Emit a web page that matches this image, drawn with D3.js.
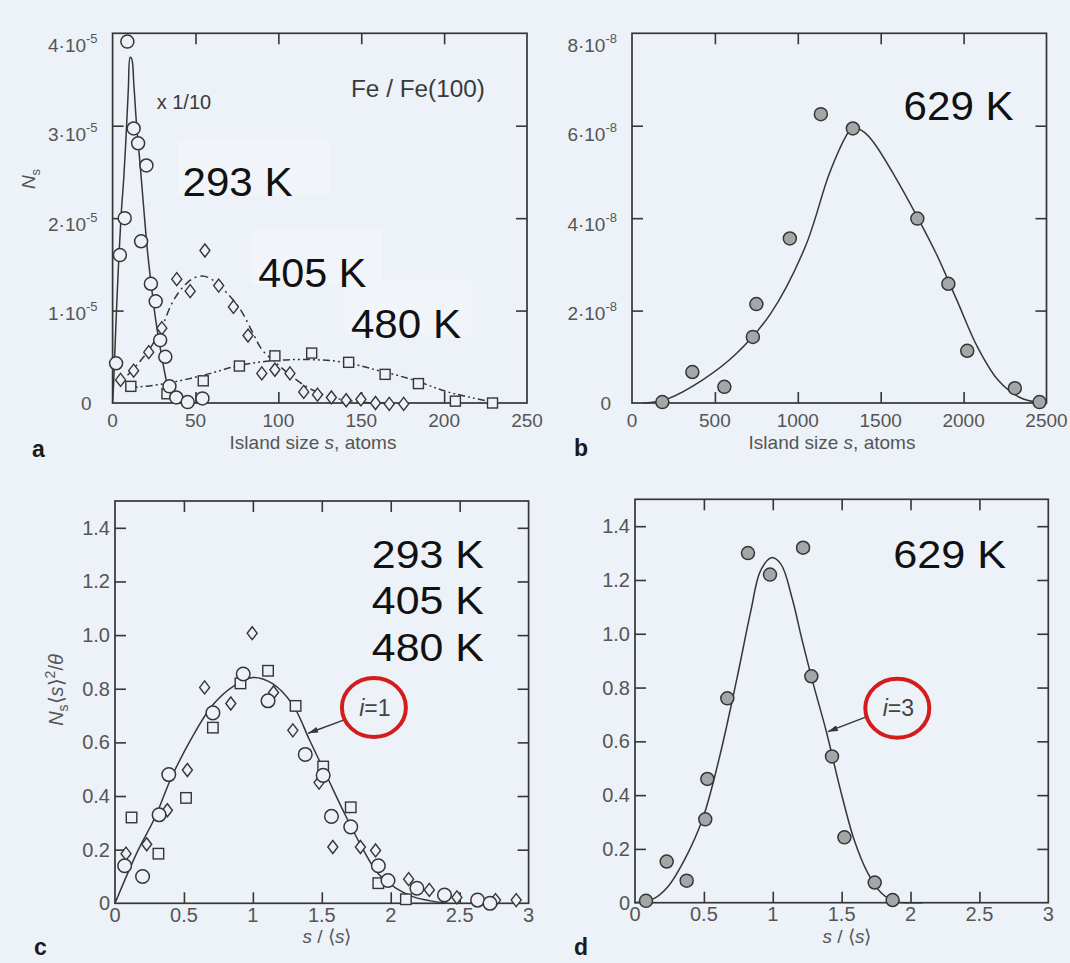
<!DOCTYPE html>
<html>
<head>
<meta charset="utf-8">
<script src="https://cdn.jsdelivr.net/npm/d3@7"></script>
<style>
  body { margin: 0; background: #ecf2f7; }
  svg { display: block; font-family: "Liberation Sans", Arial, Helvetica, sans-serif; }
</style>
</head>
<body>
<svg id="fig" width="1070" height="963"></svg>
<script>
// ---------- values ----------
// panel a: island density N_s (units of 1e-5) vs island size s (atoms)
var aTicksX = [0, 50, 100, 150, 200, 250];
var aTicksY = [0, 1, 2, 3, 4];
var a293 = [[2.1,0.43],[4.4,1.60],[7.3,2.00],[8.9,3.91],[12.7,2.97],[15.4,2.81],[20.4,2.57],[17.2,1.75],
            [23.1,1.29],[26.0,1.10],[28.7,0.68],[31.8,0.50],[34.3,0.18],[38.4,0.06],[45.3,0.01],[54.2,0.05]];
var a405 = [[4.8,0.25],[12.7,0.35],[21.8,0.55],[29.7,0.81],[38.7,1.34],[46.8,1.21],[55.7,1.65],[64.0,1.27],
            [72.9,1.04],[81.7,0.73],[90.0,0.32],[97.9,0.36],[107,0.32],[115.3,0.12],[123.6,0.09],[132,0.06],
            [140.9,0.03],[149.8,0.04],[158.6,0.0],[166.9,-0.01],[175.6,-0.01]];
var a480 = [[11.0,0.18],[32.8,0.10],[54.7,0.24],[76.5,0.40],[97.9,0.51],[120.1,0.54],[142.4,0.44],
            [164.4,0.31],[184.5,0.21],[206.8,0.02],[229.2,0.0]];
var a293Fit = [[0,0],[0.6,0.2],[2,0.85],[3.7,1.55],[5.2,2.05],[6.8,2.45],[8.3,2.95],[9.5,3.4],[10.6,3.74],
               [11.6,3.72],[12.8,3.45],[14.5,3.0],[16.5,2.6],[18.5,2.17],[21,1.65],[23.5,1.25],[26,0.9],
               [28.7,0.6],[31,0.37],[33,0.2],[35,0.1],[37,0.04],[40,0.01],[45,0]];
var a405Fit = [[9,0.3],[15,0.42],[21.8,0.57],[29.7,0.82],[35,1.05],[40,1.2],[45,1.3],[50,1.36],[55.7,1.37],
               [62,1.31],[70,1.17],[77.5,1.0],[84,0.78],[90,0.58],[98.3,0.44],[108.7,0.28],[119,0.155],
               [131.5,0.065],[150,0.01],[170,0]];
var a480Fit = [[8,0.18],[11,0.17],[31.8,0.21],[54.7,0.3],[77.5,0.41],[98.3,0.46],[119,0.47],[139.9,0.44],
               [160.6,0.35],[181.4,0.25],[202.2,0.12],[229.2,0.01]];

// panel b: N_s (units of 1e-8) vs s at 629 K
var bTicksX = [0, 500, 1000, 1500, 2000, 2500];
var bTicksY = [0, 2, 4, 6, 8];
var b629 = [[183,0.02],[364,0.67],[557,0.35],[729,1.43],[750,2.14],[952,3.56],[1139,6.25],[1332,5.94],
            [1721,3.99],[1908,2.58],[2022,1.13],[2309,0.32],[2458,0.02]];
var b629Fit = [[69,0],[214,0.09],[422,0.49],[630,1.07],[837,1.94],[1045,3.38],[1191,4.97],[1295,5.8],
               [1330,5.97],[1400,5.86],[1461,5.62],[1586,4.9],[1710,4.1],[1835,3.23],[1960,2.22],
               [2084,1.21],[2209,0.49],[2334,0.13],[2458,0]];

// panels c, d: scaled distribution N_s<s>^2/theta vs s/<s>
var cdTicksX = [0, 0.5, 1, 1.5, 2, 2.5, 3];
var cdTicksY = [0, 0.2, 0.4, 0.6, 0.8, 1.0, 1.2, 1.4];
var c293 = [[0.07,0.14],[0.20,0.10],[0.32,0.33],[0.39,0.48],[0.71,0.71],[0.93,0.855],[1.11,0.755],
            [1.38,0.555],[1.51,0.477],[1.57,0.324],[1.71,0.285],[1.91,0.14],[1.98,0.085],[2.19,0.056],
            [2.39,0.031],[2.63,0.012],[2.72,0.0]];
var c405 = [[0.08,0.185],[0.23,0.22],[0.38,0.347],[0.525,0.497],[0.65,0.805],[0.84,0.745],[0.995,1.007],
            [1.15,0.786],[1.29,0.645],[1.48,0.45],[1.58,0.21],[1.78,0.21],[1.89,0.197],[2.13,0.09],
            [2.28,0.05],[2.48,0.022],[2.76,0.012],[2.91,0.012]];
var c480 = [[0.12,0.32],[0.315,0.185],[0.515,0.393],[0.71,0.655],[0.91,0.82],[1.11,0.867],[1.31,0.736],
            [1.51,0.51],[1.71,0.358],[1.91,0.075],[2.11,0.015]];
var cFit = [[0,0],[0.16,0.19],[0.29,0.32],[0.41,0.47],[0.56,0.62],[0.71,0.74],[0.86,0.81],[1.0,0.842],
            [1.14,0.82],[1.29,0.74],[1.41,0.61],[1.54,0.47],[1.66,0.34],[1.79,0.21],[1.91,0.11],
            [2.04,0.056],[2.16,0.025],[2.29,0.009],[2.41,0]];
var d629 = [[0.08,0.007],[0.23,0.153],[0.375,0.082],[0.51,0.31],[0.525,0.46],[0.67,0.76],[0.82,1.30],
            [0.98,1.22],[1.22,1.32],[1.28,0.842],[1.43,0.544],[1.52,0.243],[1.74,0.075],[1.87,0.01]];
var dFit = [[0,0],[0.14,0.016],[0.24,0.06],[0.36,0.16],[0.49,0.31],[0.61,0.534],[0.74,0.834],[0.84,1.083],
            [0.91,1.233],[0.99,1.283],[1.06,1.258],[1.14,1.133],[1.21,0.983],[1.29,0.821],[1.39,0.634],
            [1.49,0.422],[1.59,0.235],[1.69,0.11],[1.79,0.035],[1.89,0.004],[1.99,0],[2.09,0]];

// ---------- drawing ----------
var INK = '#363636', TXT = '#555', RED = '#d41c1c', PAPER = '#ecf2f7';
var TICK = 11;
var svg = d3.select('#fig');

svg.append('rect').attr('width', 1070).attr('height', 963).attr('fill', PAPER);

var defs = svg.append('defs');
defs.append('marker').attr('id', 'arrow')
  .attr('viewBox', '0 0 10 6').attr('refX', 10).attr('refY', 3)
  .attr('markerWidth', 10).attr('markerHeight', 6)
  .attr('markerUnits', 'userSpaceOnUse').attr('orient', 'auto')
  .append('path').attr('d', 'M0,0L10,3L0,6Z').attr('fill', INK);

function makePanel(box, xDom, yDom){
  return {
    box: box,
    x: d3.scaleLinear().domain(xDom).range([box.l, box.r]),
    y: d3.scaleLinear().domain(yDom).range([box.b, box.t])
  };
}

// inward ticks on all four sides + frame
function drawFrame(p, xt, yt){
  var b = p.box;
  var xin = xt.filter(function(v){ return v > p.x.domain()[0] && v < p.x.domain()[1]; });
  var yin = yt.filter(function(v){ return v > p.y.domain()[0] && v < p.y.domain()[1]; });
  var sides = [
    [d3.axisBottom(p.x).tickValues(xin), 'translate(0,' + b.b + ')'],
    [d3.axisTop(p.x).tickValues(xin), 'translate(0,' + b.t + ')'],
    [d3.axisLeft(p.y).tickValues(yin), 'translate(' + b.l + ',0)'],
    [d3.axisRight(p.y).tickValues(yin), 'translate(' + b.r + ',0)']
  ];
  sides.forEach(function(s){
    var g = svg.append('g').attr('transform', s[1])
      .call(s[0].tickSize(-TICK).tickFormat(''));
    g.select('.domain').remove();
    g.selectAll('line').attr('stroke', INK).attr('stroke-width', 1.6);
  });
  svg.append('rect')
    .attr('x', b.l).attr('y', b.t)
    .attr('width', b.r - b.l).attr('height', b.b - b.t)
    .attr('fill', 'none').attr('stroke', INK).attr('stroke-width', 1.7);
}

function xLabels(p, vals, base, fs, fmt){
  svg.append('g').selectAll('text').data(vals).join('text')
    .attr('x', function(d){ return p.x(d); })
    .attr('y', base)
    .attr('text-anchor', 'middle')
    .attr('font-size', fs).attr('fill', TXT)
    .text(fmt);
}

// y labels like 4·10^-5 (the scan sets them a little low towards the top)
function expLabels(p, vals, expo){
  var max = p.y.domain()[1];
  var g = svg.append('g').attr('font-size', 19).attr('fill', TXT);
  vals.forEach(function(v){
    var yy = p.y(v) + 12 * v / max + 6.5;
    if(v === 0){
      g.append('text').attr('x', p.box.l - 21).attr('y', yy)
        .attr('text-anchor', 'end').text('0');
      return;
    }
    var t = g.append('text').attr('x', p.box.l - 15).attr('y', yy).attr('text-anchor', 'end');
    t.append('tspan').text(v + '\u00b710');
    t.append('tspan').attr('dy', -9).attr('font-size', 13).text(expo);
  });
}

function decLabels(p, vals){
  svg.append('g').selectAll('text').data(vals).join('text')
    .attr('x', p.box.l - 5)
    .attr('y', function(d){ return p.y(d) + 7; })
    .attr('text-anchor', 'end')
    .attr('font-size', 20).attr('fill', TXT)
    .text(function(d){ return d === 0 ? '0' : d3.format('.1f')(d); });
}

function fitLine(p, pts, dash){
  var line = d3.line()
    .x(function(d){ return p.x(d[0]); })
    .y(function(d){ return p.y(d[1]); })
    .curve(d3.curveCatmullRom.alpha(0.5));
  svg.append('path').datum(pts)
    .attr('d', line)
    .attr('fill', 'none').attr('stroke', INK).attr('stroke-width', 1.5)
    .attr('stroke-dasharray', dash || null);
}

function circles(p, pts, r, fill){
  svg.append('g').selectAll('circle').data(pts).join('circle')
    .attr('cx', function(d){ return p.x(d[0]); })
    .attr('cy', function(d){ return p.y(d[1]); })
    .attr('r', r)
    .attr('fill', fill).attr('stroke', INK).attr('stroke-width', 1.5);
}

function squares(p, pts, s){
  svg.append('g').selectAll('rect').data(pts).join('rect')
    .attr('x', function(d){ return p.x(d[0]) - s / 2; })
    .attr('y', function(d){ return p.y(d[1]) - s / 2; })
    .attr('width', s).attr('height', s)
    .attr('fill', PAPER).attr('stroke', INK).attr('stroke-width', 1.4);
}

function diamonds(p, pts){
  svg.append('g').selectAll('path').data(pts).join('path')
    .attr('transform', function(d){ return 'translate(' + p.x(d[0]) + ',' + p.y(d[1]) + ')'; })
    .attr('d', 'M0,-6.5L5,0L0,6.5L-5,0Z')
    .attr('fill', PAPER).attr('stroke', INK).attr('stroke-width', 1.4);
}

function bigLabel(x, y, str, fs, len){
  svg.append('text').attr('x', x).attr('y', y)
    .attr('font-size', fs).attr('fill', '#111')
    .attr('textLength', len).attr('lengthAdjust', 'spacingAndGlyphs')
    .text(str);
}

function panelLetter(x, y, ch){
  svg.append('text').attr('x', x).attr('y', y)
    .attr('font-size', 23).attr('font-weight', 'bold').attr('fill', '#1a1a1a')
    .text(ch);
}

function islandTitle(cx, y){
  var t = svg.append('text').attr('x', cx).attr('y', y)
    .attr('text-anchor', 'middle').attr('font-size', 19).attr('fill', TXT);
  t.append('tspan').text('Island size  ');
  t.append('tspan').attr('font-style', 'italic').text('s');
  t.append('tspan').text(', atoms');
}

function ratioTitle(cx, y){
  var t = svg.append('text').attr('x', cx).attr('y', y)
    .attr('text-anchor', 'middle').attr('font-size', 19).attr('fill', TXT);
  t.append('tspan').attr('font-style', 'italic').text('s');
  t.append('tspan').text(' / \u27e8');
  t.append('tspan').attr('font-style', 'italic').text('s');
  t.append('tspan').text('\u27e9');
}

function annot(p, cx, cy, n, from, to){
  svg.append('path')
    .attr('d', 'M' + p.x(from[0]) + ',' + p.y(from[1]) + 'L' + p.x(to[0]) + ',' + p.y(to[1]))
    .attr('stroke', INK).attr('stroke-width', 1.5).attr('marker-end', 'url(#arrow)');
  svg.append('ellipse').attr('cx', p.x(cx)).attr('cy', p.y(cy))
    .attr('rx', 32).attr('ry', 29.5)
    .attr('fill', PAPER).attr('stroke', RED).attr('stroke-width', 4);
  var t = svg.append('text').attr('x', p.x(cx) + 1).attr('y', p.y(cy) + 8)
    .attr('text-anchor', 'middle').attr('font-size', 23).attr('fill', '#444');
  t.append('tspan').attr('font-style', 'italic').text('i');
  t.append('tspan').text('=' + n);
}

// ---------------- panel a ----------------
var pa = makePanel({l: 112.6, r: 527, t: 33.3, b: 403}, [0, 250], [0, 4]);
var patch = '#f1f5f9';
svg.append('rect').attr('x', pa.x(39)).attr('y', pa.y(2.85)).attr('width', 152).attr('height', 55).attr('fill', patch);
svg.append('rect').attr('x', pa.x(84)).attr('y', pa.y(1.88)).attr('width', 130).attr('height', 55).attr('fill', patch);
svg.append('rect').attr('x', pa.x(140)).attr('y', pa.y(1.32)).attr('width', 128).attr('height', 54).attr('fill', patch);
drawFrame(pa, aTicksX, aTicksY);
xLabels(pa, aTicksX, 427, 19, function(d){ return d; });
expLabels(pa, aTicksY, '-5');
fitLine(pa, a480Fit, '7,3,2,3,2,3');
fitLine(pa, a405Fit, '8,4,2,4');
fitLine(pa, a293Fit);
squares(pa, a480, 10);
diamonds(pa, a405);
circles(pa, a293, 6.5, PAPER);
bigLabel(pa.x(42.2), pa.y(2.24), '293 K', 40, 110);
bigLabel(pa.x(87.9), pa.y(1.25), '405 K', 40, 108);
bigLabel(pa.x(143.8), pa.y(0.70), '480 K', 40, 110);
svg.append('text').attr('x', pa.x(143.8)).attr('y', pa.y(3.31))
  .attr('font-size', 23).attr('fill', '#3a3a3a')
  .attr('textLength', 134).attr('lengthAdjust', 'spacingAndGlyphs').text('Fe / Fe(100)');
svg.append('text').attr('x', pa.x(26.6)).attr('y', pa.y(3.18))
  .attr('font-size', 20).attr('fill', '#3a3a3a').text('x 1/10');
islandTitle(313, 449);
var nsA = svg.append('text').attr('transform', 'translate(35,179) rotate(-90)')
  .attr('text-anchor', 'middle').attr('font-size', 19).attr('fill', TXT);
nsA.append('tspan').attr('font-style', 'italic').text('N');
nsA.append('tspan').attr('dy', 5).attr('font-size', 13).text('s');
panelLetter(32, 457, 'a');

// ---------------- panel b ----------------
var pb = makePanel({l: 632, r: 1046.5, t: 33.3, b: 403}, [0, 2500], [0, 8]);
drawFrame(pb, bTicksX, bTicksY);
xLabels(pb, bTicksX, 427, 19, function(d){ return d; });
expLabels(pb, bTicksY, '-8');
fitLine(pb, b629Fit);
circles(pb, b629, 6.5, '#a4a6a8');
bigLabel(pb.x(1638), pb.y(6.12), '629 K', 40, 110);
islandTitle(832, 449);
panelLetter(574, 456, 'b');

// ---------------- panel c ----------------
var pc = makePanel({l: 115, r: 528.6, t: 501, b: 903.3}, [0, 3], [0, 1.5]);
drawFrame(pc, cdTicksX, cdTicksY);
xLabels(pc, cdTicksX, 922, 20, function(d){ return d; });
decLabels(pc, cdTicksY);
fitLine(pc, cFit);
squares(pc, c480, 10.5);
diamonds(pc, c405);
circles(pc, c293, 6.8, PAPER);
bigLabel(pc.x(1.863), pc.y(1.252), '293 K', 38, 112);
bigLabel(pc.x(1.863), pc.y(1.078), '405 K', 38, 112);
bigLabel(pc.x(1.863), pc.y(0.904), '480 K', 38, 112);
annot(pc, 1.878, 0.730, 1, [1.663, 0.684], [1.401, 0.634]);
ratioTitle(327, 943);
var nsC = svg.append('text').attr('transform', 'translate(63,690) rotate(-90)')
  .attr('text-anchor', 'middle').attr('font-size', 20).attr('fill', TXT);
nsC.append('tspan').attr('font-style', 'italic').text('N');
nsC.append('tspan').attr('dy', 5).attr('font-size', 14).text('s');
nsC.append('tspan').attr('dy', -5).text('\u27e8');
nsC.append('tspan').attr('font-style', 'italic').text('s');
nsC.append('tspan').text('\u27e9');
nsC.append('tspan').attr('dy', -8).attr('font-size', 14).text('2');
nsC.append('tspan').attr('dy', 8).text('/');
nsC.append('tspan').attr('font-style', 'italic').text('\u03b8');
panelLetter(34, 955, 'c');

// ---------------- panel d ----------------
var pd = makePanel({l: 635, r: 1048.3, t: 499.3, b: 902.7}, [0, 3], [0, 1.5]);
drawFrame(pd, cdTicksX, cdTicksY);
xLabels(pd, cdTicksX, 921, 20, function(d){ return d; });
decLabels(pd, cdTicksY);
fitLine(pd, dFit);
circles(pd, d629, 6.5, '#a4a6a8');
bigLabel(pd.x(1.874), pd.y(1.246), '629 K', 38, 113);
annot(pd, 1.904, 0.723, 3, [1.674, 0.690], [1.400, 0.636]);
ratioTitle(847, 943);
panelLetter(574, 955, 'd');
</script>
</body>
</html>
